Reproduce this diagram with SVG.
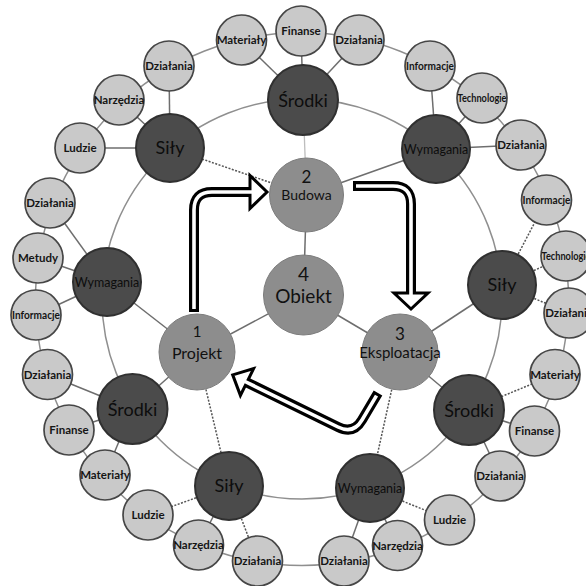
<svg xmlns="http://www.w3.org/2000/svg" width="586" height="586" viewBox="0 0 586 586">
<style>
.ring{fill:none;stroke:#8f8f8f;stroke-width:1.5}
.sp{stroke:#6e6e6e;stroke-width:1.5;fill:none}
.ds{stroke:#555;stroke-width:1.5;stroke-dasharray:2 1.5;fill:none}
.fa{stroke:#bdbdbd;stroke-width:1.3;fill:none}
.lt circle{fill:#c9c9c9;stroke:#464646;stroke-width:1.7}
.lt text{font-family:Lato,"Liberation Sans",sans-serif;font-weight:700;font-size:11.5px;fill:#151515;text-anchor:middle}
.dk circle{fill:#4b4b4b;stroke:#303030;stroke-width:2}
.dk text{font-family:Lato,"Liberation Sans",sans-serif;font-size:18px;fill:#0d0d0d;text-anchor:middle}
.dk text.w{font-size:12.5px}
.in circle{fill:#8d8d8d;stroke:#7c7c7c;stroke-width:1}
.in text{font-family:Lato,"Liberation Sans",sans-serif;fill:#111;text-anchor:middle}
.ab{fill:none;stroke:#000;stroke-width:10}
.aw{fill:none;stroke:#fff;stroke-width:3.6}
.ah{fill:#fff;stroke:#000;stroke-width:3;stroke-linejoin:miter}
</style>
<rect width="586" height="586" fill="#fff"/>
<g id="connectors">
<circle class="ring" cx="302" cy="299" r="266.5"/>
<circle class="ring" cx="302" cy="299" r="200"/>
<line class="sp" x1="303" y1="100" x2="241.5" y2="40"/>
<line class="sp" x1="303" y1="100" x2="301" y2="31"/>
<line class="sp" x1="303" y1="100" x2="359" y2="40"/>
<line class="sp" x1="436" y1="149" x2="430" y2="66"/>
<line class="sp" x1="436" y1="149" x2="482" y2="98"/>
<line class="sp" x1="436" y1="149" x2="521" y2="145"/>
<line class="ds" x1="502" y1="285" x2="546.5" y2="200"/>
<line class="ds" x1="502" y1="285" x2="566" y2="256"/>
<line class="ds" x1="502" y1="285" x2="569" y2="313"/>
<line class="ds" x1="469" y1="410" x2="555" y2="374.5"/>
<line class="sp" x1="469" y1="410" x2="534.5" y2="431"/>
<line class="sp" x1="469" y1="410" x2="500" y2="476"/>
<line class="ds" x1="370" y1="488" x2="449.5" y2="520"/>
<line class="sp" x1="370" y1="488" x2="397.5" y2="545.5"/>
<line class="sp" x1="370" y1="488" x2="344" y2="561"/>
<line class="ds" x1="229" y1="486" x2="257.5" y2="561"/>
<line class="sp" x1="229" y1="486" x2="198.5" y2="545"/>
<line class="ds" x1="229" y1="486" x2="148" y2="515"/>
<line class="sp" x1="132.5" y1="409" x2="105" y2="475"/>
<line class="sp" x1="132.5" y1="409" x2="69" y2="430"/>
<line class="sp" x1="132.5" y1="409" x2="47.5" y2="374.5"/>
<line class="sp" x1="107" y1="282" x2="36" y2="315"/>
<line class="sp" x1="107" y1="282" x2="38" y2="258"/>
<line class="sp" x1="107" y1="282" x2="50" y2="203"/>
<line class="sp" x1="170" y1="148" x2="80" y2="148"/>
<line class="sp" x1="170" y1="148" x2="119" y2="100"/>
<line class="sp" x1="170" y1="148" x2="169" y2="66"/>
<line class="sp" x1="303.5" y1="295" x2="306.5" y2="195"/>
<line class="sp" x1="303.5" y1="295" x2="197" y2="352"/>
<line class="sp" x1="303.5" y1="295" x2="400" y2="352"/>
<line class="sp" x1="197" y1="352" x2="107" y2="282"/>
<line class="sp" x1="197" y1="352" x2="132.5" y2="409"/>
<line class="ds" x1="197" y1="352" x2="229" y2="486"/>
<line class="ds" x1="306.5" y1="195" x2="170" y2="148"/>
<line class="fa" x1="306.5" y1="195" x2="303" y2="100"/>
<line class="sp" x1="306.5" y1="195" x2="436" y2="149"/>
<line class="sp" x1="400" y1="352" x2="502" y2="285"/>
<line class="sp" x1="400" y1="352" x2="469" y2="410"/>
<line class="ds" x1="400" y1="352" x2="370" y2="488"/>
</g>
<g id="l1" class="lt"><circle cx="241.5" cy="40" r="25"/><text x="241.5" y="44">Materiały</text></g>
<g id="l2" class="lt"><circle cx="301" cy="31" r="25"/><text x="301" y="35">Finanse</text></g>
<g id="l3" class="lt"><circle cx="359" cy="40" r="25"/><text x="359" y="44">Działania</text></g>
<g id="l4" class="lt"><circle cx="430" cy="66" r="25"/><text x="430" y="70" textLength="48" lengthAdjust="spacingAndGlyphs">Informacje</text></g>
<g id="l5" class="lt"><circle cx="482" cy="98" r="25"/><text x="482" y="102" textLength="49" lengthAdjust="spacingAndGlyphs">Technologie</text></g>
<g id="l6" class="lt"><circle cx="521" cy="145" r="25"/><text x="521" y="149">Działania</text></g>
<g id="l7" class="lt"><circle cx="546.5" cy="200" r="25"/><text x="546.5" y="204" textLength="48" lengthAdjust="spacingAndGlyphs">Informacje</text></g>
<g id="l8" class="lt"><circle cx="566" cy="256" r="25"/><text x="566" y="260" textLength="49" lengthAdjust="spacingAndGlyphs">Technologie</text></g>
<g id="l9" class="lt"><circle cx="569" cy="313" r="25"/><text x="569" y="317">Działania</text></g>
<g id="l10" class="lt"><circle cx="555" cy="374.5" r="25"/><text x="555" y="378.5">Materiały</text></g>
<g id="l11" class="lt"><circle cx="534.5" cy="431" r="25"/><text x="534.5" y="435">Finanse</text></g>
<g id="l12" class="lt"><circle cx="500" cy="476" r="25"/><text x="500" y="480">Działania</text></g>
<g id="l13" class="lt"><circle cx="449.5" cy="520" r="25"/><text x="449.5" y="524">Ludzie</text></g>
<g id="l14" class="lt"><circle cx="397.5" cy="545.5" r="25"/><text x="397.5" y="549.5">Narzędzia</text></g>
<g id="l15" class="lt"><circle cx="344" cy="561" r="25"/><text x="344" y="565">Działania</text></g>
<g id="l16" class="lt"><circle cx="257.5" cy="561" r="25"/><text x="257.5" y="565">Działania</text></g>
<g id="l17" class="lt"><circle cx="198.5" cy="545" r="25"/><text x="198.5" y="549">Narzędzia</text></g>
<g id="l18" class="lt"><circle cx="148" cy="515" r="25"/><text x="148" y="519">Ludzie</text></g>
<g id="l19" class="lt"><circle cx="105" cy="475" r="25"/><text x="105" y="479">Materiały</text></g>
<g id="l20" class="lt"><circle cx="69" cy="430" r="25"/><text x="69" y="434">Finanse</text></g>
<g id="l21" class="lt"><circle cx="47.5" cy="374.5" r="25"/><text x="47.5" y="378.5">Działania</text></g>
<g id="l22" class="lt"><circle cx="36" cy="315" r="25"/><text x="36" y="319" textLength="48" lengthAdjust="spacingAndGlyphs">Informacje</text></g>
<g id="l23" class="lt"><circle cx="38" cy="258" r="25"/><text x="38" y="262">Metudy</text></g>
<g id="l24" class="lt"><circle cx="50" cy="203" r="25"/><text x="50" y="207">Działania</text></g>
<g id="l25" class="lt"><circle cx="80" cy="148" r="25"/><text x="80" y="152">Ludzie</text></g>
<g id="l26" class="lt"><circle cx="119" cy="100" r="25"/><text x="119" y="104">Narzędzia</text></g>
<g id="l27" class="lt"><circle cx="169" cy="66" r="25"/><text x="169" y="70">Działania</text></g>
<g id="d1" class="dk"><circle cx="303" cy="100" r="35"/><text x="303" y="106.5">Środki</text></g>
<g id="d2" class="dk"><circle cx="436" cy="149" r="34"/><text class="w" x="436" y="153.5">Wymagania</text></g>
<g id="d3" class="dk"><circle cx="502" cy="285" r="34"/><text x="502" y="291">Siły</text></g>
<g id="d4" class="dk"><circle cx="469" cy="410" r="35"/><text x="469" y="416.5">Środki</text></g>
<g id="d5" class="dk"><circle cx="370" cy="488" r="34"/><text class="w" x="370" y="492.5">Wymagania</text></g>
<g id="d6" class="dk"><circle cx="229" cy="486" r="34"/><text x="229" y="492">Siły</text></g>
<g id="d7" class="dk"><circle cx="132.5" cy="409" r="35"/><text x="132.5" y="415.5">Środki</text></g>
<g id="d8" class="dk"><circle cx="107" cy="282" r="34"/><text class="w" x="107" y="286.5">Wymagania</text></g>
<g id="d9" class="dk"><circle cx="170" cy="148" r="34"/><text x="170" y="154">Siły</text></g>
<g id="n2" class="in"><circle cx="306.5" cy="195" r="37"/><text x="306.5" y="183" font-size="17">2</text><text x="306.5" y="200" font-size="14">Budowa</text></g>
<g id="n4" class="in"><circle cx="303.5" cy="295" r="40"/><text x="303.5" y="281" font-size="19">4</text><text x="303.5" y="303" font-size="19">Obiekt</text></g>
<g id="n1" class="in"><circle cx="197" cy="352" r="38"/><text x="197" y="337" font-size="15">1</text><text x="197" y="359" font-size="16">Projekt</text></g>
<g id="n3" class="in"><circle cx="400" cy="352" r="38"/><text x="400" y="340" font-size="17">3</text><text x="400" y="358" font-size="15">Eksploatacja</text></g>
<g id="arrows">
<path class="ab" d="M194,312 V210 Q194,192 212,192 H251"/>
<polygon class="ah" points="250,175.5 250,208.5 267,192"/>
<path class="aw" d="M194,309 V210 Q194,192 212,192 H253"/>
<path class="ab" d="M353,186 H393 Q411,186 411,204 V294"/>
<polygon class="ah" points="394,293 428,293 411,309"/>
<path class="aw" d="M356,186 H393 Q411,186 411,204 V296"/>
<path class="ab" d="M378,393 L362,420 Q353.4,434.6 338,427 L246,382"/>
<polygon class="ah" points="253.6,368.6 240.4,395.4 232.7,374.9"/>
<path class="aw" d="M376.5,395.6 L362,420 Q353.4,434.6 338,427 L244,381"/>
</g>
</svg>
